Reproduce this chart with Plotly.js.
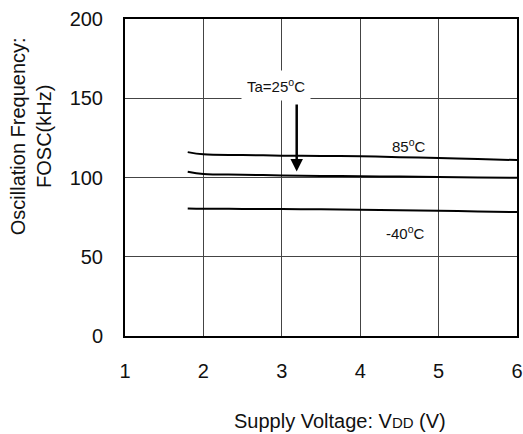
<!DOCTYPE html>
<html>
<head>
<meta charset="utf-8">
<script src="https://cdn.plot.ly/plotly-3.0.1.min.js"></script>
<style>html,body{margin:0;padding:0;background:#fff;}#chart{width:523px;height:434px;}</style>
</head>
<body>
<div id="chart"></div>
<script>
var vdd = [1.8, 2, 2.5, 3, 3.5, 4, 4.5, 5, 5.5, 6];
var f85 = [116, 114.6, 114.2, 113.8, 113.6, 113.4, 112.8, 112.3, 111.6, 111];
var f25 = [103.6, 102.2, 101.8, 101.3, 101, 100.8, 100.6, 100.3, 100, 99.8];
var fm40 = [80.5, 80.3, 80.2, 80.1, 79.9, 79.6, 79.3, 79, 78.6, 78.2];
var xTicks = [1, 2, 3, 4, 5, 6];
var yTicks = [0, 50, 100, 150, 200];
var seriesNames = ['85°C', 'Ta=25°C', '-40°C'];

var font = 'Arial, Liberation Sans, sans-serif';
function tr(y, name) {
  return {x: vdd, y: y, name: name, type: 'scatter', mode: 'lines',
    line: {color: '#000', width: 2, shape: 'spline'}, hoverinfo: 'x+y'};
}
var data = [tr(f85, seriesNames[0]), tr(f25, seriesNames[1]), tr(fm40, seriesNames[2])];

var layout = {
  width: 523, height: 434,
  margin: {l: 125, r: 6, t: 19, b: 98},
  paper_bgcolor: '#fff', plot_bgcolor: '#fff',
  showlegend: false,
  font: {family: font, size: 16, color: '#000'},
  xaxis: {
    range: [1, 6], tickvals: xTicks, ticktext: xTicks.map(String),
    showgrid: true, gridcolor: '#444', gridwidth: 1,
    zeroline: false, showline: true, linecolor: '#000', linewidth: 2, mirror: true,
    ticks: '', ticklabelstandoff: 16,
    tickfont: {family: font, size: 20, color: '#111'}
  },
  yaxis: {
    range: [0, 200], tickvals: yTicks, ticktext: yTicks.map(String),
    showgrid: true, gridcolor: '#444', gridwidth: 1,
    zeroline: false, showline: true, linecolor: '#000', linewidth: 2, mirror: true,
    ticks: '', ticklabelstandoff: 16,
    tickfont: {family: font, size: 20, color: '#111'}
  },
  annotations: [
    {xref: 'paper', yref: 'paper', x: 0.548, y: -0.268, xanchor: 'center', yanchor: 'middle',
     text: 'Supply Voltage: V<span style="font-size:15px">DD</span> (V)', showarrow: false,
     font: {family: font, size: 20, color: '#111'}},
    {xref: 'paper', yref: 'paper', x: -0.24, y: 0.63, xanchor: 'center', yanchor: 'middle', textangle: -90,
     text: 'Oscillation Frequency:<br>FOSC(kHz)', showarrow: false, align: 'center',
     font: {family: font, size: 20, color: '#111'}},
    {x: 2.93, y: 158, xref: 'x', yref: 'y', text: 'Ta=25<sup>o</sup>C', showarrow: false,
     bgcolor: '#fff', font: {family: font, size: 15, color: '#111'}, borderpad: 5},
    {x: 3.19, y: 103.8, ax: 3.19, ay: 147, axref: 'x', ayref: 'y', xref: 'x', yref: 'y', text: '',
     showarrow: true, arrowhead: 2, arrowsize: 1, arrowwidth: 2.5, arrowcolor: '#000'},
    {x: 4.62, y: 120, xref: 'x', yref: 'y', text: '85<sup>o</sup>C', showarrow: false,
     font: {family: font, size: 15, color: '#111'}},
    {x: 4.58, y: 65.3, xref: 'x', yref: 'y', text: '-40<sup>o</sup>C', showarrow: false,
     font: {family: font, size: 15, color: '#111'}}
  ]
};
Plotly.newPlot('chart', data, layout, {displayModeBar: false, staticPlot: true});
</script>
</body>
</html>
